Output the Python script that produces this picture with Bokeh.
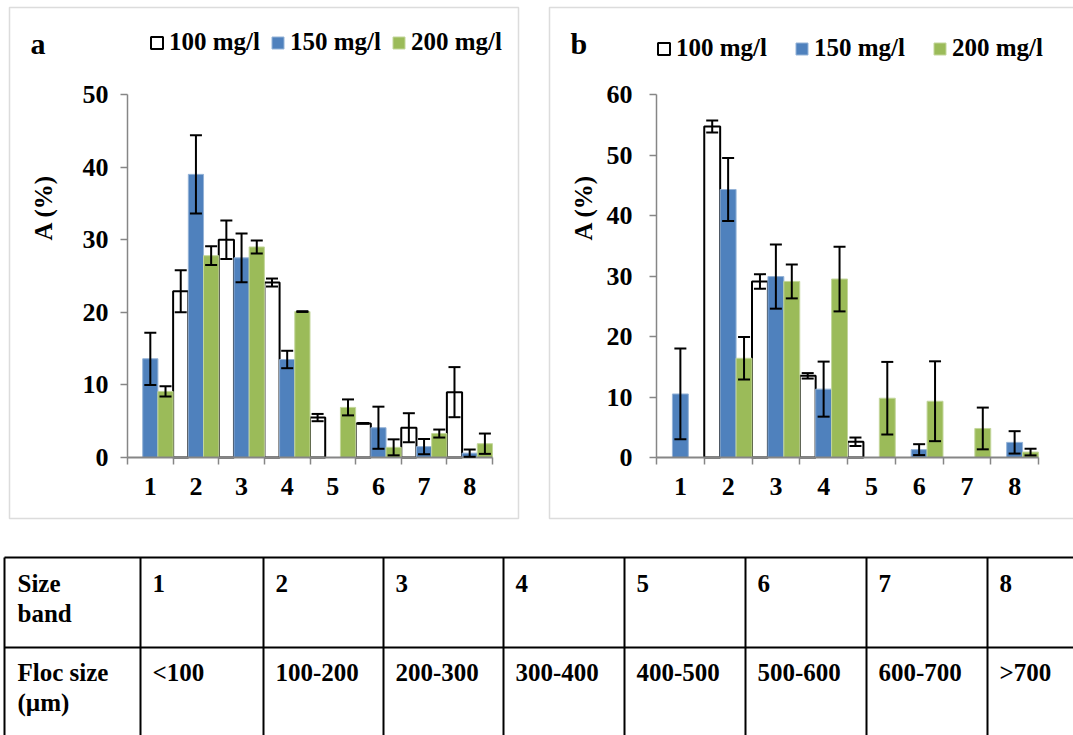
from bokeh.plotting import figure
from bokeh.models import (ColumnDataSource, Range1d, FixedTicker, Whisker, TeeHead,
                          Legend, LegendItem, Label, BoxAnnotation)
from bokeh.layouts import row, column
from bokeh.embed import file_html
from bokeh.resources import INLINE
from bokeh.core.properties import value

# ---- data -------------------------------------------------------------
bands = [1, 2, 3, 4, 5, 6, 7, 8]
series_names = ["100 mg/l", "150 mg/l", "200 mg/l"]

# panel a: A (%) per size band, mean and error
a_100 = [0.0, 22.9, 30.0, 24.1, 5.5, 4.7, 4.1, 9.0]
a_100_err = [0.0, 2.9, 2.65, 0.55, 0.5, 0.05, 2.0, 3.45]
a_150 = [13.6, 39.0, 27.5, 13.5, 0.0, 4.1, 1.5, 0.6]
a_150_err = [3.6, 5.4, 3.35, 1.2, 0.0, 2.9, 1.05, 0.5]
a_200 = [9.1, 27.8, 29.0, 20.1, 6.9, 1.4, 3.3, 1.9]
a_200_err = [0.7, 1.3, 0.9, 0.05, 1.1, 1.1, 0.55, 1.4]

# panel b
b_100 = [0.0, 54.7, 29.1, 13.5, 2.6, 0.0, 0.0, 0.0]
b_100_err = [0.0, 1.0, 1.2, 0.45, 0.7, 0.0, 0.0, 0.0]
b_150 = [10.5, 44.3, 29.9, 11.3, 0.0, 1.3, 0.0, 2.5]
b_150_err = [7.5, 5.2, 5.3, 4.55, 0.0, 0.9, 0.0, 1.85]
b_200 = [0.0, 16.4, 29.1, 29.5, 9.8, 9.3, 4.8, 0.9]
b_200_err = [0.0, 3.5, 2.8, 5.35, 6.0, 6.6, 3.45, 0.55]

# size-band table
table_row_titles = [["Size", "band"], ["Floc size", "(\u00b5m)"]]
floc_sizes = ["<100", "100-200", "200-300", "300-400", "400-500",
              "500-600", "600-700", ">700"]

# ---- style ------------------------------------------------------------
FONT = "'Liberation Serif', 'Times New Roman', Times, serif"
BLUE = "#4F81BD"
GREEN = "#9BBB59"
AXIS_GRAY = "#868686"
BORDER_GRAY = "#8C8C8C"

bar_styles = [
    dict(fill_color="white", line_color="black", line_width=2),
    dict(fill_color=BLUE, line_color="#95B3D7", line_width=1),
    dict(fill_color=GREEN, line_color="#C3D69B", line_width=1),
]


def make_panel(letter, values, errors, y_top, W, ax_left, ax_right,
               legend_x, legend_y, legend_spacing, y_standoff, border_right):
    H = 540
    ax_bottom, ax_top = 457, 94
    ppu_y = (ax_bottom - ax_top) / y_top
    ppu_x = (ax_right - ax_left) / len(bands)
    # the frame fills the whole canvas; axes sit at fixed data locations
    p = figure(width=W, height=H, output_backend="svg", toolbar_location=None,
               x_range=Range1d(0.5 - ax_left / ppu_x, 0.5 + (W - ax_left) / ppu_x),
               y_range=Range1d(-(H - ax_bottom) / ppu_y, ax_bottom / ppu_y),
               min_border=0, min_border_left=0, min_border_right=0,
               min_border_top=0, min_border_bottom=0)
    p.outline_line_color = None
    p.grid.visible = False
    p.background_fill_color = "white"
    p.border_fill_color = "white"

    # x axis: labels at band centres, ticks at band boundaries
    xa = p.xaxis[0]
    xa.fixed_location = 0
    xa.ticker = FixedTicker(ticks=bands,
                            minor_ticks=[b - 0.5 for b in bands] + [bands[-1] + 0.5])
    xa.bounds = (0.5, bands[-1] + 0.5)
    xa.axis_line_color = AXIS_GRAY
    xa.axis_line_width = 2
    xa.major_tick_line_color = None
    xa.major_tick_out = 7
    xa.major_tick_in = 0
    xa.minor_tick_line_color = AXIS_GRAY
    xa.minor_tick_line_width = 1.5
    xa.minor_tick_out = 7
    xa.minor_tick_in = 0
    xa.major_label_standoff = 13
    xa.major_label_text_font = FONT
    xa.major_label_text_font_size = "26px"
    xa.major_label_text_font_style = "bold"
    xa.major_label_text_color = "black"

    ya = p.yaxis[0]
    ya.fixed_location = 0.5
    ya.ticker = FixedTicker(ticks=list(range(0, y_top + 1, 10)))
    ya.bounds = (0, y_top)
    ya.axis_line_color = AXIS_GRAY
    ya.axis_line_width = 1.5
    ya.major_tick_line_color = AXIS_GRAY
    ya.major_tick_line_width = 1.5
    ya.major_tick_out = 7
    ya.major_tick_in = 0
    ya.minor_tick_line_color = None
    ya.major_label_standoff = y_standoff
    ya.major_label_text_font = FONT
    ya.major_label_text_font_size = "26px"
    ya.major_label_text_font_style = "bold"
    ya.major_label_text_color = "black"

    offsets = [-1 / 3, 0.0, 1 / 3]
    renderers = []
    for vals, off, st in zip(values, offsets, bar_styles):
        xs = [b + off for b, v in zip(bands, vals) if v > 0]
        tops = [v for v in vals if v > 0]
        src = ColumnDataSource(dict(x=xs, top=tops))
        r = p.vbar(x="x", top="top", bottom=0, width=1 / 3, source=src, **st)
        renderers.append(r)

    for vals, errs, off in zip(values, errors, offsets):
        pts = [(b + off, v, e) for b, v, e in zip(bands, vals, errs) if e > 0]
        esrc = ColumnDataSource(dict(x=[q[0] for q in pts],
                                     upper=[q[1] + q[2] for q in pts],
                                     lower=[q[1] - q[2] for q in pts]))
        w = Whisker(source=esrc, base="x", upper="upper", lower="lower",
                    level="annotation", line_color="black", line_width=2,
                    upper_head=TeeHead(size=12, line_width=2, line_color="black"),
                    lower_head=TeeHead(size=12, line_width=2, line_color="black"))
        p.add_layout(w)

    leg = Legend(items=[LegendItem(label=n, renderers=[r])
                        for n, r in zip(series_names, renderers)],
                 orientation="horizontal", location=(legend_x, legend_y),
                 border_line_color=None, background_fill_alpha=0,
                 padding=0, margin=0, spacing=legend_spacing, label_standoff=5,
                 glyph_width=15, glyph_height=15, label_height=15,
                 label_text_font=FONT, label_text_font_size="25px",
                 label_text_font_style="bold", label_text_color="black")
    p.add_layout(leg)

    p.add_layout(Label(x=30, y=43, x_units="canvas", y_units="canvas", text=letter,
                       text_font=FONT, text_font_size="30px", text_font_style="bold",
                       text_baseline="alphabetic", text_color="black"))
    p.add_layout(Label(x=43, y=207, x_units="canvas", y_units="canvas", text="A (%)",
                       angle=90, angle_units="deg", text_align="center",
                       text_baseline="middle", text_font=FONT, text_font_size="25px",
                       text_font_style="bold", text_color="black"))
    p.add_layout(BoxAnnotation(left=9, right=border_right, top=7, bottom=518,
                               left_units="canvas", right_units="canvas",
                               top_units="canvas", bottom_units="canvas",
                               fill_color=None, line_color=BORDER_GRAY, line_width=1.5))
    return p


pa = make_panel("a", [a_100, a_150, a_200], [a_100_err, a_150_err, a_200_err], 50,
                W=540, ax_left=127, ax_right=492,
                legend_x=149, legend_y=484, legend_spacing=10, y_standoff=12,
                border_right=518)
pb = make_panel("b", [b_100, b_150, b_200], [b_100_err, b_150_err, b_200_err], 60,
                W=533, ax_left=116, ax_right=498,
                legend_x=116, legend_y=478, legend_spacing=27, y_standoff=17,
                border_right=545)

# ---- size-band table --------------------------------------------------
TW, TH = 1073, 195
tbl = figure(width=TW, height=TH, output_backend="svg", toolbar_location=None,
             x_range=Range1d(0, TW), y_range=Range1d(TH, 0),
             x_axis_location=None, y_axis_location=None, min_border=0)
tbl.outline_line_color = None
tbl.grid.visible = False

col_edges = [4, 140, 263, 383, 503, 624, 745, 866, 987]
row_lines = [17, 107]
tbl.segment(x0=[col_edges[0]] * len(row_lines), x1=[TW + 20] * len(row_lines),
            y0=row_lines, y1=row_lines, line_color="black", line_width=2)
tbl.segment(x0=col_edges, x1=col_edges, y0=[row_lines[0]] * len(col_edges),
            y1=[TH + 20] * len(col_edges), line_color="black", line_width=2)

first_base = [43, 132]
line_step = 30
tx, ty, tt = [], [], []
for r, lines in enumerate(table_row_titles):
    for k, s in enumerate(lines):
        tx.append(col_edges[0] + 13)
        ty.append(first_base[r] + k * line_step)
        tt.append(s)
for i, (b, fs) in enumerate(zip(bands, floc_sizes)):
    tx += [col_edges[i + 1] + 12, col_edges[i + 1] + 12]
    ty += [first_base[0], first_base[1]]
    tt += [str(b), fs]
tbl.text(x=tx, y=ty, text=tt, text_font=value(FONT), text_font_size="25px",
         text_font_style="bold", text_baseline="alphabetic", text_align="left",
         text_color="black")

layout = column(row(pa, pb), tbl)
open("out.html", "w").write(file_html(layout, INLINE))
